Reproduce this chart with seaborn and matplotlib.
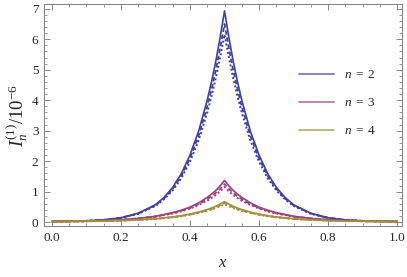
import numpy as np
import pandas as pd
import matplotlib
matplotlib.use("Agg")
import matplotlib.pyplot as plt
from matplotlib.ticker import MultipleLocator
import seaborn as sns

# sample positions
x = [0.0, 0.05, 0.1, 0.15, 0.2, 0.25, 0.3, 0.325, 0.35, 0.375, 0.4, 0.425, 0.45, 0.4625,
     0.475, 0.4875, 0.5, 0.5125, 0.525, 0.5375, 0.55, 0.575, 0.6, 0.625, 0.65, 0.675,
     0.7, 0.75, 0.8, 0.85, 0.9, 0.95, 1.0]

# n = 2 : solid, dashed, dotted
n2_solid = [0.02, 0.03, 0.04, 0.07, 0.14, 0.29, 0.57, 0.81, 1.14, 1.59, 2.2, 2.98, 4.0, 4.61,
            5.29, 6.07, 6.93, 6.07, 5.29, 4.61, 4.0, 2.98, 2.2, 1.59, 1.14, 0.81,
            0.57, 0.29, 0.14, 0.07, 0.04, 0.03, 0.02]
n2_dash = [0.02, 0.03, 0.04, 0.07, 0.14, 0.28, 0.55, 0.78, 1.09, 1.52, 2.09, 2.83, 3.79, 4.36,
           5.0, 5.72, 6.5, 5.72, 5.0, 4.36, 3.79, 2.83, 2.09, 1.52, 1.09, 0.78,
           0.55, 0.28, 0.14, 0.07, 0.04, 0.03, 0.02]
n2_dot = [0.02, 0.03, 0.04, 0.07, 0.135, 0.27, 0.53, 0.75, 1.04, 1.44, 1.98, 2.68, 3.59, 4.13,
          4.73, 5.41, 6.15, 5.41, 4.73, 4.13, 3.59, 2.68, 1.98, 1.44, 1.04, 0.75,
          0.53, 0.27, 0.135, 0.07, 0.04, 0.03, 0.02]

# n = 3
n3_solid = [0.02, 0.022, 0.03, 0.048, 0.075, 0.12, 0.19, 0.25, 0.31, 0.39, 0.49, 0.63, 0.81, 0.92,
            1.04, 1.19, 1.37, 1.19, 1.04, 0.92, 0.81, 0.63, 0.49, 0.39, 0.31, 0.25,
            0.19, 0.12, 0.075, 0.048, 0.03, 0.022, 0.02]
n3_dash = [0.02, 0.022, 0.03, 0.047, 0.073, 0.12, 0.18, 0.24, 0.29, 0.37, 0.46, 0.59, 0.75, 0.85,
           0.96, 1.09, 1.25, 1.09, 0.96, 0.85, 0.75, 0.59, 0.46, 0.37, 0.29, 0.24,
           0.18, 0.12, 0.073, 0.047, 0.03, 0.022, 0.02]
n3_dot = [0.02, 0.022, 0.03, 0.046, 0.07, 0.11, 0.18, 0.23, 0.28, 0.35, 0.44, 0.56, 0.7, 0.79,
          0.89, 1.01, 1.15, 1.01, 0.89, 0.79, 0.7, 0.56, 0.44, 0.35, 0.28, 0.23,
          0.18, 0.11, 0.07, 0.046, 0.03, 0.022, 0.02]

# n = 4
n4_solid = [0.02, 0.022, 0.027, 0.035, 0.05, 0.075, 0.11, 0.14, 0.17, 0.21, 0.26, 0.33, 0.41, 0.46,
            0.52, 0.59, 0.67, 0.59, 0.52, 0.46, 0.41, 0.33, 0.26, 0.21, 0.17, 0.14,
            0.11, 0.075, 0.05, 0.035, 0.027, 0.022, 0.02]
n4_dash = [0.02, 0.022, 0.027, 0.035, 0.049, 0.072, 0.105, 0.13, 0.16, 0.2, 0.25, 0.31, 0.39, 0.43,
           0.49, 0.55, 0.62, 0.55, 0.49, 0.43, 0.39, 0.31, 0.25, 0.2, 0.16, 0.13,
           0.105, 0.072, 0.049, 0.035, 0.027, 0.022, 0.02]
n4_dot = [0.02, 0.022, 0.027, 0.034, 0.048, 0.07, 0.1, 0.13, 0.155, 0.19, 0.24, 0.3, 0.37, 0.41,
          0.46, 0.52, 0.58, 0.52, 0.46, 0.41, 0.37, 0.3, 0.24, 0.19, 0.155, 0.13,
          0.1, 0.07, 0.048, 0.034, 0.027, 0.022, 0.02]

labels = [r"$n\;=\;2$", r"$n\;=\;3$", r"$n\;=\;4$"]
colors = ["#4040a0", "#a0407a", "#a09040"]

sns.set_style("ticks")
plt.rcParams["font.family"] = ["Liberation Serif", "DejaVu Serif"]
plt.rcParams["mathtext.fontset"] = "custom"
plt.rcParams["mathtext.rm"] = "Liberation Serif"
plt.rcParams["mathtext.it"] = "Liberation Serif:italic"

fig = plt.figure(figsize=(4.07, 2.77), dpi=100)
ax = fig.add_axes([0.108, 0.184, 0.88, 0.802])

groups = [(n2_solid, n2_dash, n2_dot), (n3_solid, n3_dash, n3_dot), (n4_solid, n4_dash, n4_dot)]
for (s, d, o), c, lab in zip(groups, colors, labels):
    sns.lineplot(x=x, y=o, ax=ax, color=c, lw=1.4, linestyle=(0, (1, 1.2)), legend=False)
    sns.lineplot(x=x, y=d, ax=ax, color=c, lw=1.3, linestyle=(0, (2.5, 1.5)), legend=False)
    sns.lineplot(x=x, y=s, ax=ax, color=c, lw=1.2, label=lab)

ax.set_xlim(-0.023, 1.0145)
ax.set_ylim(-0.13, 7.16)
ax.xaxis.set_major_locator(MultipleLocator(0.2))
ax.xaxis.set_minor_locator(MultipleLocator(0.05))
ax.yaxis.set_major_locator(MultipleLocator(1))
ax.yaxis.set_minor_locator(MultipleLocator(0.2))
ax.set_xticklabels([f"{v:.1f}" for v in ax.get_xticks()])
ax.tick_params(which="both", direction="in", top=True, right=True, color="#888888",
               labelsize=9.5, pad=4)
ax.tick_params(which="major", length=4, width=0.7)
ax.tick_params(which="minor", length=2, width=0.6)
for sp in ax.spines.values():
    sp.set_color("#888888")
    sp.set_linewidth(0.8)

ax.set_xlabel("$x$", fontsize=12, labelpad=8)
ax.set_ylabel("$I_n^{(1)}/10^{-6}$", fontsize=13.5, labelpad=1)

leg = ax.legend(loc="upper left", bbox_to_anchor=(0.68, 0.76), frameon=False, fontsize=9.5,
                handlelength=2.6, labelspacing=1.2, handletextpad=0.8)
for h in leg.get_lines():
    h.set_alpha(0.75)

fig.savefig("out.png", dpi=100)
